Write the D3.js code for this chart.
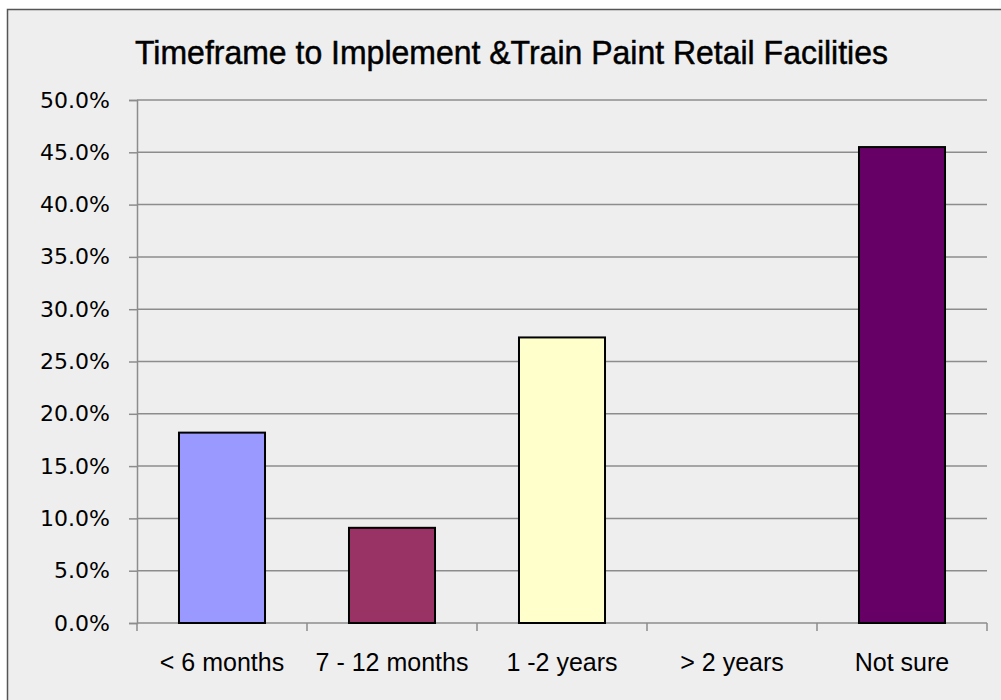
<!DOCTYPE html>
<html>
<head>
<meta charset="utf-8">
<script src="https://cdnjs.cloudflare.com/ajax/libs/d3/7.8.5/d3.min.js"></script>
<style>
  body { margin: 0; background: #ffffff; }
</style>
</head>
<body>
<div id="chart-area"></div>
<script>
const categories = ['< 6 months', '7 - 12 months', '1 -2 years', '> 2 years', 'Not sure']
const values = [18.2, 9.1, 27.3, 0, 45.5]
const barColors = ['#9999ff', '#993366', '#ffffcc', '#ff8080', '#660066']
const yTicks = [0, 5, 10, 15, 20, 25, 30, 35, 40, 45, 50]
const title = 'Timeframe to Implement &Train Paint Retail Facilities'

const margin = { left: 137, right: 14, top: 100, bottom: 77 }
const W = 1001, H = 700
const width = W - margin.left - margin.right
const height = H - margin.top - margin.bottom

const svg = d3.select('#chart-area').append('svg')
    .attr('width', W)
    .attr('height', H)

// chart frame
svg.append('rect')
    .attr('x', 7.5).attr('y', 9.5)
    .attr('width', 1010).attr('height', 710)
    .attr('fill', '#eeeeee')
    .attr('stroke', '#555555')
    .attr('stroke-width', 1.5)

svg.append('text')
    .attr('x', 511.5)
    .attr('y', 64)
    .attr('text-anchor', 'middle')
    .attr('font-family', '"Liberation Sans", Arial, sans-serif')
    .attr('font-size', '34px')
    .attr('fill', '#000')
    .attr('stroke', '#000')
    .attr('stroke-width', 0.5)
    .attr('textLength', 753)
    .attr('lengthAdjust', 'spacingAndGlyphs')
    .text(title)

const group = svg.append('g')
    .attr('transform', `translate(${margin.left}, ${margin.top})`)

const scaleY = d3.scaleLinear()
    .domain([0, 50])
    .range([height, 0])

const scaleX = d3.scaleBand()
    .domain(categories)
    .range([0, width])
    .paddingInner(0.494)
    .paddingOuter(0.247)

const step = scaleX.step()

// gridlines
group.append('g')
    .selectAll('line')
    .data(yTicks.slice(1))
    .enter()
    .append('line')
    .attr('x1', 0).attr('x2', width)
    .attr('y1', d => scaleY(d)).attr('y2', d => scaleY(d))
    .attr('stroke', '#8c8c8c')
    .attr('stroke-width', 1.5)

// y axis
const yAxisCall = d3.axisLeft(scaleY)
    .tickValues(yTicks)
    .tickSize(8)
    .tickPadding(19)
    .tickFormat(d => d.toFixed(1) + '%')
const yAxis = group.append('g')
    .attr('class', 'y axis')
    .call(yAxisCall)
yAxis.select('.domain').attr('stroke', '#8c8c8c').attr('stroke-width', 1.5)
yAxis.selectAll('.tick line').attr('stroke', '#8c8c8c').attr('stroke-width', 1.5)
yAxis.selectAll('.tick text')
    .attr('font-family', '"DejaVu Sans", Verdana, sans-serif')
    .attr('font-size', '22px')
    .attr('fill', '#000')

// x axis: ticks sit between categories
const xAxis = group.append('g')
    .attr('class', 'x axis')
    .attr('transform', `translate(0, ${height})`)
xAxis.append('line')
    .attr('x1', 0).attr('x2', width)
    .attr('stroke', '#8c8c8c').attr('stroke-width', 1.5)
xAxis.selectAll('line.tk')
    .data(d3.range(categories.length + 1))
    .enter()
    .append('line')
    .attr('class', 'tk')
    .attr('x1', i => i * step).attr('x2', i => i * step)
    .attr('y1', 0).attr('y2', 8)
    .attr('stroke', '#8c8c8c').attr('stroke-width', 1.5)
xAxis.selectAll('text')
    .data(categories)
    .enter()
    .append('text')
    .attr('x', d => scaleX(d) + scaleX.bandwidth() / 2)
    .attr('y', 48)
    .attr('text-anchor', 'middle')
    .attr('font-family', '"Liberation Sans", Arial, sans-serif')
    .attr('font-size', '25px')
    .attr('fill', '#000')
    .text(d => d)

// bars
const rects = group.selectAll('rect.bar').data(values)
rects.enter()
    .append('rect')
    .attr('class', 'bar')
    .attr('x', (d, i) => scaleX(categories[i]))
    .attr('y', d => scaleY(d))
    .attr('width', scaleX.bandwidth())
    .attr('height', d => height - scaleY(d))
    .attr('fill', (d, i) => barColors[i])
    .attr('stroke', '#000')
    .attr('stroke-width', 2)
</script>
</body>
</html>
